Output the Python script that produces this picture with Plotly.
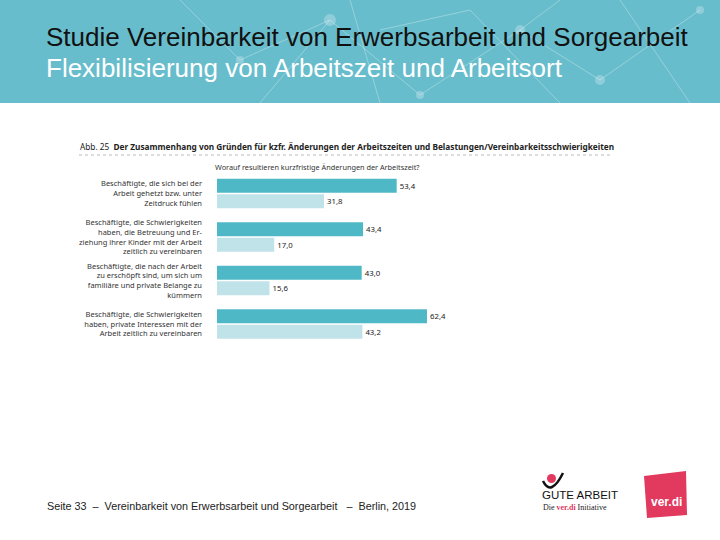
import plotly.graph_objects as go

categories = [
    "Beschäftigte, die sich bei der<br>Arbeit gehetzt bzw. unter<br>Zeitdruck fühlen",
    "Beschäftigte, die Schwierigkeiten<br>haben, die Betreuung und Er-<br>ziehung ihrer Kinder mit der Arbeit<br>zeitlich zu vereinbaren",
    "Beschäftigte, die nach der Arbeit<br>zu erschöpft sind, um sich um<br>familiäre und private Belange zu<br>kümmern",
    "Beschäftigte, die Schwierigkeiten<br>haben, private Interessen mit der<br>Arbeit zeitlich zu vereinbaren",
]
series_a = [53.4, 43.4, 43.0, 62.4]
series_b = [31.8, 17.0, 15.6, 43.2]
series_names = ["Grund A", "Grund B"]

dark = "#4fb8c6"
light = "#c0e3ea"

def fmt(v):
    return f"{v:.1f}".replace(".", ",")

fig = go.Figure()
fig.add_trace(go.Bar(
    y=categories, x=series_a, orientation="h", name=series_names[0],
    marker=dict(color=dark, line=dict(width=0)),
    text=[fmt(v) for v in series_a], textposition="outside",
    textfont=dict(size=7.8, color="#222", family="Noto Sans"),
    cliponaxis=False,
))
fig.add_trace(go.Bar(
    y=categories, x=series_b, orientation="h", name=series_names[1],
    marker=dict(color=light, line=dict(width=0)),
    text=[fmt(v) for v in series_b], textposition="outside",
    textfont=dict(size=7.8, color="#222", family="Noto Sans"),
    cliponaxis=False,
))

W, H = 720, 540
def px(x):
    return x / W
def py(y):
    return 1 - y / H

shapes = [
    # header band
    dict(type="rect", xref="paper", yref="paper", x0=0, x1=1, y0=py(103), y1=1,
         fillcolor="#68bdcc", line=dict(width=0), layer="below"),
    # dotted separator under chart title
    dict(type="line", xref="paper", yref="paper", x0=px(79), x1=px(613), y0=py(155), y1=py(155),
         line=dict(color="#aaaaaa", width=0.8, dash="dot")),
    # ver.di red box
    dict(type="path", xref="paper", yref="paper",
         path=f"M {px(644)} {py(476)} L {px(686)} {py(471)} L {px(687)} {py(515)} L {px(647)} {py(518)} Z",
         fillcolor="#e2395f", line=dict(width=0)),
    # Gute Arbeit logo: red dot
    dict(type="circle", xref="paper", yref="paper", x0=px(547), x1=px(556), y0=py(483), y1=py(474),
         fillcolor="#e2395f", line=dict(width=0)),
    # black arc
    dict(type="path", xref="paper", yref="paper",
         path=f"M {px(543)} {py(481)} Q {px(551)} {py(497)} {px(563)} {py(473)}",
         line=dict(color="#111", width=2.5)),
]

# faint network decoration in header
net = [((180, 0), (240, 60)), ((240, 60), (330, 20)), ((330, 20), (420, 95)), ((420, 95), (520, 30)),
       ((520, 30), (600, 80)), ((600, 80), (700, 10)), ((350, 0), (380, 103)), ((470, 10), (560, 103)),
       ((620, 0), (690, 103)), ((260, 103), (330, 20)), ((380, 30), (470, 10)), ((560, 0), (520, 30))]
for (a, b) in net:
    shapes.append(dict(type="line", xref="paper", yref="paper", x0=px(a[0]), y0=py(a[1]),
                       x1=px(b[0]), y1=py(b[1]), line=dict(color="rgba(255,255,255,0.3)", width=1),
                       layer="below"))
for (cx, cy, r) in [(330, 20, 6), (240, 60, 4), (520, 30, 5), (600, 80, 5), (420, 95, 4), (700, 10, 4)]:
    shapes.append(dict(type="circle", xref="paper", yref="paper", x0=px(cx - r), x1=px(cx + r),
                       y0=py(cy + r), y1=py(cy - r), fillcolor="rgba(255,255,255,0.25)",
                       line=dict(width=0), layer="below"))

annotations = [
    dict(text="Studie Vereinbarkeit von Erwerbsarbeit und Sorgearbeit", x=px(44), y=py(37),
         xref="paper", yref="paper", xanchor="left", yanchor="middle", showarrow=False,
         font=dict(family="Liberation Sans", size=26, color="#111")),
    dict(text="Flexibilisierung von Arbeitszeit und Arbeitsort", x=px(44), y=py(68),
         xref="paper", yref="paper", xanchor="left", yanchor="middle", showarrow=False,
         font=dict(family="Liberation Sans", size=26, color="#ffffff")),
    dict(text="Abb. 25  <b>Der Zusammenhang von Gründen für kzfr. Änderungen der Arbeitszeiten und Belastungen/Vereinbarkeitsschwierigkeiten</b>",
         x=px(78), y=py(147), xref="paper", yref="paper", xanchor="left", yanchor="middle",
         showarrow=False, font=dict(family="Noto Sans", size=8.25, color="#222")),
    dict(text="Worauf resultieren kurzfristige Änderungen der Arbeitszeit?", x=px(213), y=py(167),
         xref="paper", yref="paper", xanchor="left", yanchor="middle", showarrow=False,
         font=dict(family="Noto Sans", size=7.3, color="#333")),
    dict(text="Seite 33  –  Vereinbarkeit von Erwerbsarbeit und Sorgearbeit   –  Berlin, 2019",
         x=px(45), y=py(506), xref="paper", yref="paper", xanchor="left", yanchor="middle",
         showarrow=False, font=dict(family="Liberation Sans", size=10.8, color="#222")),
    dict(text="GUTE ARBEIT", x=px(540), y=py(495), xref="paper", yref="paper", xanchor="left",
         yanchor="middle", showarrow=False,
         font=dict(family="Liberation Sans Narrow, Liberation Sans", size=11.5, color="#111")),
    dict(text="Die <b><span style='color:#e2395f'>ver.di</span></b> Initiative", x=px(541), y=py(507),
         xref="paper", yref="paper", xanchor="left", yanchor="middle", showarrow=False,
         font=dict(family="Liberation Serif", size=8, color="#222")),
    dict(text="<b>ver.di</b>", x=px(666), y=py(502), xref="paper", yref="paper", xanchor="center",
         yanchor="middle", showarrow=False, font=dict(family="Liberation Sans", size=12, color="#ffffff")),
]

fig.update_layout(
    width=W, height=H,
    margin=dict(l=0, r=0, t=0, b=0),
    paper_bgcolor="white", plot_bgcolor="white",
    showlegend=False,
    barmode="group", bargap=0.29, bargroupgap=0.1,
    xaxis=dict(domain=[px(217), px(217 + 3.365 * 70)], range=[0, 70], visible=False, fixedrange=True),
    yaxis=dict(domain=[py(345.75), py(171.75)], type="category", range=[3.5, -0.5],
               showgrid=False, zeroline=False, showline=False, ticks="",
               ticklabelstandoff=14, fixedrange=True,
               tickfont=dict(family="Noto Sans", size=7.5, color="#333")),
    shapes=shapes, annotations=annotations,
)

fig.write_html("out.html", config={"displayModeBar": False},
               post_script="document.body.style.margin='0px';document.body.style.padding='0px';")
